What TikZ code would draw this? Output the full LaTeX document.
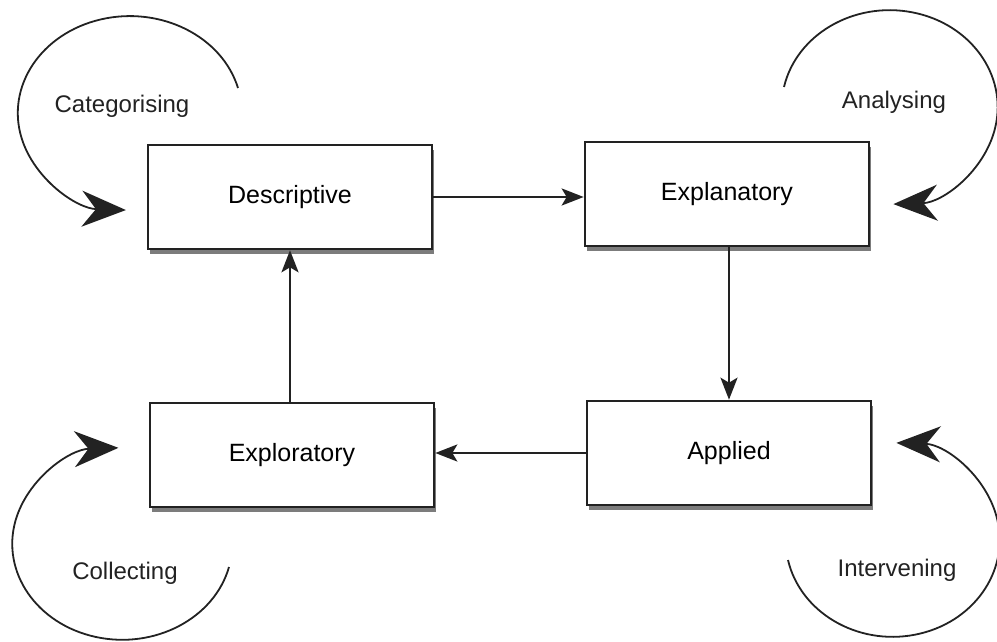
\documentclass[tikz,border=0pt]{standalone}
\usepackage{fontspec}
\setmainfont{Liberation Sans}
\usepackage{tikz}
\usetikzlibrary{
  arrows.meta,
  shadows
}
\definecolor{rsLine}{HTML}{222222}
\definecolor{rsShade}{HTML}{444444}
\tikzset{
  stagebox/.style={
    draw=rsLine, line width=1.3pt, fill=white, minimum width=142pt, minimum height=52pt,
    font=\fontsize{12.5}{14}\selectfont, align=center,
    drop shadow={shadow xshift=0.8pt, shadow yshift=-2.5pt, fill=rsShade, opacity=.7}
  },
  looptag/.style={font=\fontsize{12}{14}\selectfont, text=rsLine},
  stepflow/.style={-{Stealth[length=11pt, width=8.5pt, inset=2.5pt]}, line width=1.3pt, rsLine},
  loopflow/.style={-{Stealth[length=22pt, width=18pt, inset=7pt]}, line width=0.9pt, rsLine}
}

\begin{document}
\begin{tikzpicture}[x=0.5pt, y=-0.5pt]
  \useasboundingbox (0,0) rectangle (997,642);
  % the four stages
  \node[stagebox] (desc) at (290,197) {Descriptive};
  \node[stagebox] (expl) at (727,194) {Explanatory};
  \node[stagebox] (explo) at (292,455) {Exploratory};
  \node[stagebox] (appl) at (729,453) {Applied};
  \draw[stepflow] (desc.east) -- (expl.west |- desc.east);
  \draw[stepflow] (expl.south -| appl.north) -- (appl.north);
  \draw[stepflow] (appl.west) -- (explo.east |- appl.west);
  \draw[stepflow] (explo.north -| desc.south) -- (desc.south);
  % loops round each stage
  \node[looptag] (cat) at (122,106) {Categorising};
  \node[looptag] (ana) at (894,102) {Analysing};
  \node[looptag] (col) at (125,573) {Collecting};
  \node[looptag] (int) at (897,570) {Intervening};
  \coordinate (catS) at (238,88);
  \coordinate (anaS) at (784,87);
  \coordinate (colS) at (229,567);
  \coordinate (intS) at (788,560);
  \draw[loopflow] (catS) arc[start angle=15, end angle=268, x radius=56pt, y radius=48.5pt];
  \draw[loopflow] (anaS) arc[start angle=168, end angle=-88, x radius=54pt, y radius=48.5pt];
  \draw[loopflow] (colS) arc[start angle=-14, end angle=-268, x radius=55pt, y radius=48pt];
  \draw[loopflow] (intS) arc[start angle=192, end angle=448, x radius=53.5pt, y radius=48.5pt];
\end{tikzpicture}
\end{document}
